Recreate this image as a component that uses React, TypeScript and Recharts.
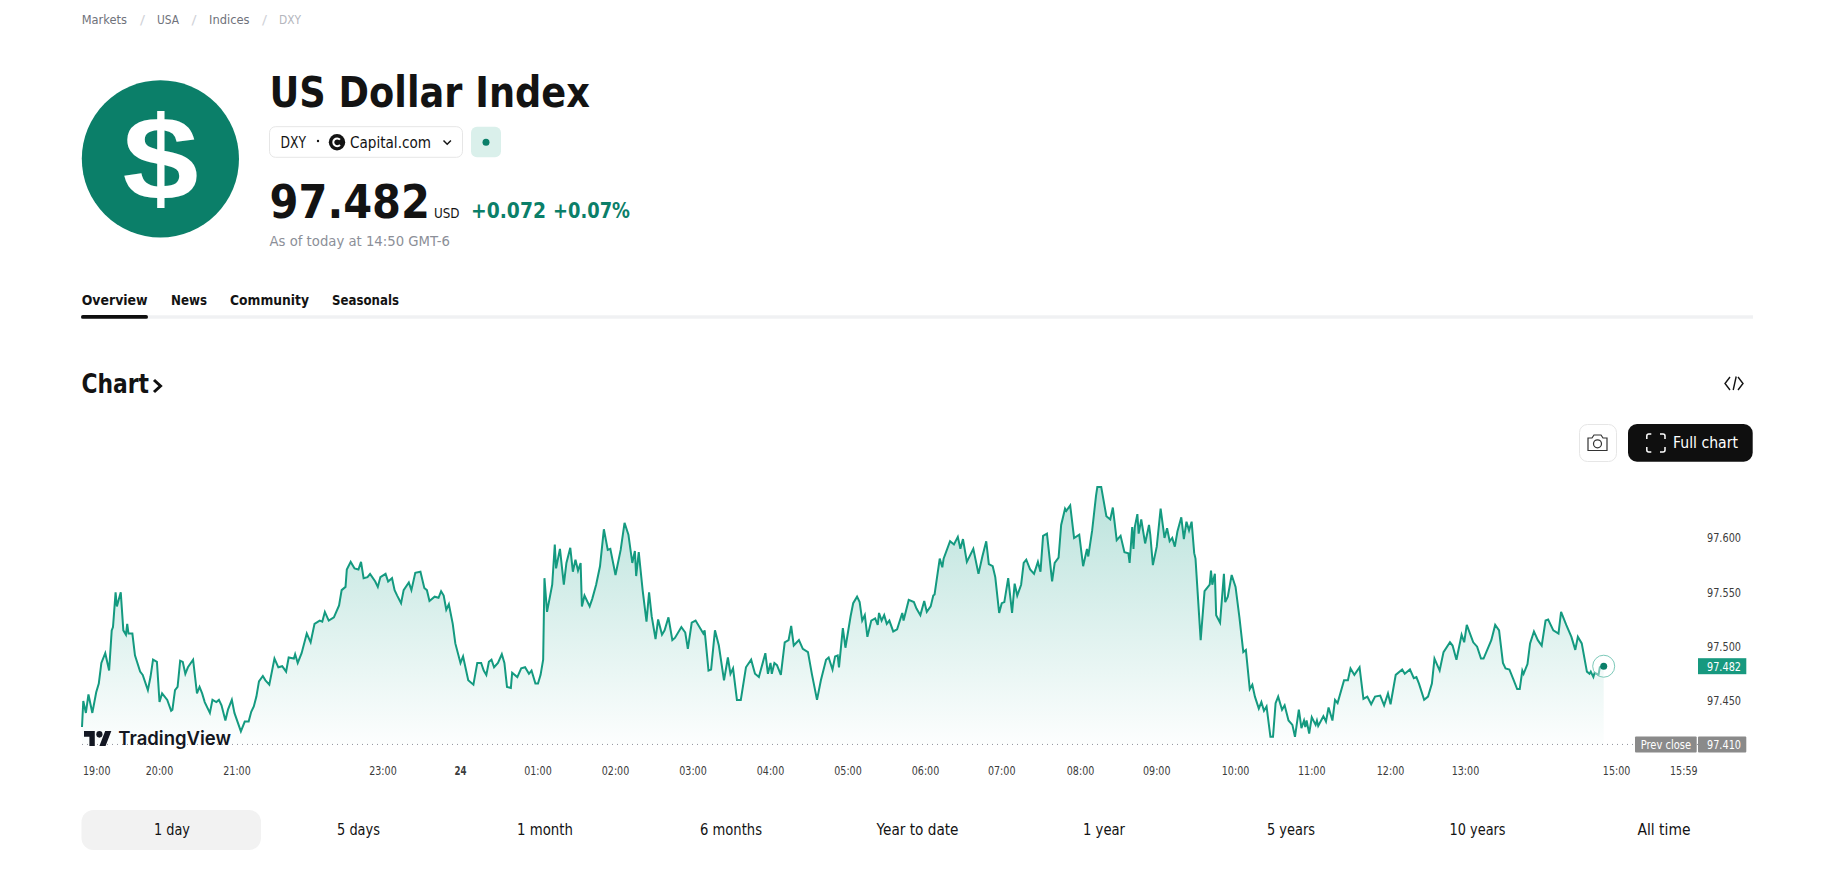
import React from "react"
import {
  Area,
  ComposedChart,
  ReferenceDot,
  ReferenceLine,
  XAxis,
  YAxis
} from "recharts"

// [minute bar on the intraday axis, price]
type Quote = [number, number]

const eveningQuotes: Quote[] = [
  [0,97.426],[1,97.450],[3,97.439],[5,97.456],[8,97.439],[11,97.458],[13,97.466],[15,97.485],[18,97.494],[21,97.478],
  [23,97.515],[24,97.518],[26,97.550],[27,97.537],[30,97.550],[32,97.515],[34,97.511],[35,97.521],[36,97.512],[39,97.512],
  [41,97.492],[45,97.477],[47,97.474],[51,97.460],[53,97.472],[55,97.488],[58,97.486],[60,97.449],[62,97.457],[64,97.454],
  [66,97.451],[69,97.441],[70,97.442],[72,97.460],[74,97.463],[76,97.487],[78,97.486],[80,97.475],[82,97.481],[86,97.488],
  [89,97.457],[91,97.463],[93,97.457],[95,97.449],[99,97.439],[101,97.451],[104,97.449],[106,97.451],[108,97.446],[111,97.432],
  [113,97.442],[116,97.451],[118,97.439],[123,97.422],[126,97.431],[129,97.431],[131,97.440],[133,97.445],[135,97.454],[137,97.468],
  [140,97.473],[142,97.469],[145,97.465],[149,97.489],[152,97.481],[155,97.482],[158,97.477],[160,97.490],[164,97.489],[165,97.493],
  [167,97.485],[170,97.494],[174,97.512],[177,97.504],[180,97.521],[184,97.524],[186,97.523],[188,97.532],[191,97.524],[195,97.527],
  [199,97.538],[201,97.552],[204,97.555],[205,97.571],[208,97.578],[211,97.572],[214,97.571],[216,97.578],[218,97.563],[221,97.564],
  [223,97.567],[227,97.560],[229,97.555],[231,97.564],[235,97.567],[237,97.560],[240,97.563],[242,97.552],[244,97.547],[247,97.540],
  [249,97.552],[253,97.559],[255,97.552],[258,97.568],[262,97.569],[265,97.554],[267,97.552],[269,97.542],[273,97.546],[276,97.545],
  [278,97.551],[280,97.547],[282,97.534],[284,97.539],[287,97.521],[289,97.503],[293,97.485],[295,97.491],[299,97.469],[303,97.465],
  [306,97.485],[309,97.485],[311,97.478],[313,97.474],[315,97.486],[317,97.488],[319,97.481],[322,97.485],[325,97.493],[327,97.485],
  [329,97.463],[332,97.462],[333,97.476],[337,97.472],[340,97.480],[343,97.481],[346,97.475],[348,97.478],[351,97.466],[353,97.466],
  [355,97.474],[357,97.488]
]

const nightQuotes: Quote[] = [
  [358,97.563],[360,97.532],[364,97.557],[366,97.594],[367,97.572],[370,97.590],[373,97.557],[375,97.577],[378,97.591],[380,97.569],
  [382,97.580],[384,97.570],[386,97.577],[387,97.537],[389,97.547],[393,97.537],[395,97.544],[398,97.557],[401,97.574],[404,97.608],
  [407,97.589],[409,97.590],[413,97.566],[417,97.589],[420,97.614],[423,97.603],[426,97.577],[428,97.588],[429,97.565],[431,97.587],
  [434,97.552],[437,97.523],[439,97.550],[441,97.528],[444,97.507],[446,97.525],[449,97.511],[451,97.515],[454,97.527],[457,97.506],
  [459,97.508],[464,97.518],[467,97.513],[469,97.498],[472,97.522],[475,97.524],[481,97.512],[482,97.515],[485,97.478],[487,97.479],
  [490,97.515],[493,97.501],[497,97.469],[500,97.490],[502,97.475],[504,97.480],[507,97.451],[510,97.451],[514,97.481],[518,97.488],
  [521,97.475],[524,97.472],[529,97.494],[531,97.475],[533,97.485],[534,97.475],[536,97.485],[538,97.483],[541,97.474],[544,97.504],
  [547,97.506],[549,97.519],[551,97.501],[555,97.506],[558,97.498],[562,97.495],[565,97.475],[569,97.451],[572,97.469],[576,97.488],
  [578,97.490],[581,97.479],[583,97.491],[585,97.492],[586,97.481],[589,97.517],[591,97.499],[595,97.528],[597,97.540],[600,97.546],
  [602,97.541],[604,97.524],[606,97.529],[608,97.509],[611,97.524],[614,97.526],[616,97.520],[617,97.531],[619,97.524],[621,97.529],
  [623,97.521],[625,97.524],[628,97.514],[631,97.516],[635,97.531],[636,97.524],[640,97.543],[644,97.541],[646,97.535],[649,97.529],
  [652,97.542],[654,97.532],[657,97.537],[659,97.547],[660,97.548],[664,97.581],[666,97.573],[667,97.581],[672,97.597],[675,97.594],
  [678,97.601],[680,97.590],[682,97.599],[685,97.578],[690,97.590],[694,97.567],[697,97.583],[700,97.597],[702,97.576],[705,97.574],
  [707,97.564],[710,97.531],[712,97.540],[714,97.541],[717,97.563],[720,97.531],[722,97.558],[724,97.547],[727,97.557],[729,97.577],
  [731,97.580],[734,97.571],[737,97.567],[740,97.578],[742,97.569]
]

const morningQuotes: Quote[] = [
  [744,97.602],[747,97.604],[751,97.560],[753,97.577],[756,97.582],[758,97.612],[761,97.627],[762,97.625],[765,97.630],[768,97.600],
  [772,97.603],[775,97.574],[778,97.590],[779,97.583],[782,97.607],[785,97.639],[786,97.647],[789,97.647],[793,97.620],[796,97.617],
  [798,97.628],[801,97.598],[804,97.602],[807,97.587],[810,97.586],[811,97.577],[813,97.610],[814,97.590],[815,97.610],[817,97.622],
  [818,97.604],[820,97.617],[823,97.595],[826,97.612],[827,97.603],[829,97.575],[832,97.592],[835,97.627],[838,97.600],[840,97.609],
  [842,97.597],[844,97.600],[846,97.592],[848,97.606],[851,97.619],[853,97.599],[855,97.615],[857,97.607],[859,97.615],[861,97.586],
  [862,97.581],[866,97.506],[869,97.551],[873,97.557],[874,97.570],[875,97.557],[877,97.567],[878,97.529],[881,97.522],[884,97.567],
  [885,97.541],[887,97.546],[890,97.566],[893,97.555],[896,97.527],[899,97.495],[901,97.497],[904,97.461],[906,97.465],[908,97.454],
  [911,97.443],[913,97.449],[915,97.441],[917,97.445],[920,97.417],[922,97.417],[924,97.448],[926,97.454],[929,97.442],[931,97.446],
  [934,97.432],[937,97.428],[939,97.417],[942,97.442],[944,97.425],[946,97.432],[947,97.426],[948,97.432],[950,97.420],[952,97.435],
  [955,97.428],[956,97.432],[957,97.427],[961,97.436],[963,97.431],[965,97.444],[968,97.432],[970,97.451],[972,97.448],[977,97.469]
]

const afternoonQuotes: Quote[] = [
  [980,97.469],[982,97.480],[985,97.474],[989,97.481],[992,97.452],[995,97.454],[998,97.447],[1001,97.454],[1005,97.455],[1008,97.446],
  [1011,97.457],[1013,97.447],[1017,97.474],[1022,97.479],[1024,97.475],[1028,97.479],[1031,97.471],[1033,97.472],[1035,97.466],[1039,97.451],
  [1042,97.454],[1045,97.466],[1047,97.489],[1051,97.478],[1054,97.495],[1059,97.504],[1061,97.501],[1064,97.488],[1068,97.511],[1070,97.504],
  [1072,97.520],[1077,97.504],[1080,97.500],[1083,97.489],[1085,97.489],[1091,97.506],[1094,97.520],[1097,97.515],[1100,97.485],[1102,97.480],
  [1105,97.479],[1108,97.470],[1111,97.461],[1113,97.461],[1115,97.478],[1116,97.475],[1119,97.484],[1121,97.503],[1124,97.514],[1127,97.506],
  [1130,97.501],[1133,97.524],[1135,97.525],[1139,97.515],[1143,97.512],[1145,97.532],[1149,97.520],[1153,97.509],[1156,97.497],[1158,97.509],
  [1161,97.503],[1165,97.477],[1167,97.475],[1168,97.477],[1170,97.472],[1171,97.476],[1174,97.474],[1175,97.481],[1178,97.482]
]

const timeBars = [0, 60, 120, 233, 293, 353, 413, 473, 533, 593, 653, 712, 773, 832, 893, 952, 1013, 1071, 1188, 1240]
const timeLabels = ["19:00", "20:00", "21:00", "23:00", "24", "01:00", "02:00", "03:00", "04:00", "05:00", "06:00", "07:00", "08:00", "09:00", "10:00", "11:00", "12:00", "13:00", "15:00", "15:59"]
const priceTicks = [97.41, 97.45, 97.482, 97.5, 97.55, 97.6]
const lastPrice = 97.482
const prevClose = 97.41
const lastBar = 1178

const rangeLabels = ["1 day", "5 days", "1 month", "6 months", "Year to date", "1 year", "5 years", "10 years", "All time"]
const rangeCenters = [172, 358.5, 545, 731, 917.5, 1104, 1291, 1477.6, 1664]
const rangeWidths = [36, 43, 56, 62, 82, 42, 48, 56, 53]

const chartData = [...eveningQuotes, ...nightQuotes, ...morningQuotes, ...afternoonQuotes].map(
  ([bar, price]) => ({ bar, price })
)

const FONT = "'DejaVu Sans', sans-serif"
const GREEN = "#0b7f69"
const LINE_GREEN = "#149a80"

function Txt({ x, y, w, size, weight = 400, fill = "#131313", family = FONT, anchor = "start", children }: any) {
  return (
    <text
      x={x}
      y={y}
      fontSize={size}
      fontWeight={weight}
      fill={fill}
      fontFamily={family}
      textAnchor={anchor}
      textLength={w}
      lengthAdjust="spacingAndGlyphs"
    >
      {children}
    </text>
  )
}

function TimeTick({ x, y, payload }: any) {
  const i = timeBars.indexOf(payload.value)
  const label = timeLabels[i]
  const isDay = label === "24"
  return (
    <Txt
      x={i === 0 ? x + 1 : x}
      y={y + 19.7}
      w={isDay ? 12 : 27.5}
      size={12}
      weight={isDay ? 700 : 400}
      fill="#3c3c3c"
      anchor={i === 0 ? "start" : "middle"}
    >
      {label}
    </Txt>
  )
}

function PriceTick({ x, y, payload }: any) {
  const text = payload.value.toFixed(3)
  if (payload.value === lastPrice) {
    return (
      <g>
        <rect x={x} y={y - 8} width={48.3} height={16} fill="#17997f" />
        <Txt x={x + 9} y={y + 4.3} w={34} size={12} fill="#ffffff">{text}</Txt>
      </g>
    )
  }
  if (payload.value === prevClose) {
    return (
      <g>
        <rect x={x - 63} y={y - 8} width={61.7} height={16} rx={1} fill="#8a8a8a" />
        <Txt x={x - 57.3} y={y + 4.3} w={50.3} size={12} fill="#ffffff">Prev close</Txt>
        <rect x={x} y={y - 8} width={48.3} height={16} rx={1} fill="#8a8a8a" />
        <Txt x={x + 9} y={y + 4.3} w={34} size={12} fill="#ffffff">{text}</Txt>
      </g>
    )
  }
  return <Txt x={x + 9} y={y + 4.3} w={34} size={12} fill="#3c3c3c">{text}</Txt>
}

function PageChrome() {
  return (
    <svg width={1826} height={870} style={{ position: "absolute", left: 0, top: 0 }}>
      <Txt x={81.7} y={24} w={45.3} size={12.5} fill="#6f727b">Markets</Txt>
      <Txt x={140} y={24} w={5} size={12.5} fill="#d0d2d8">/</Txt>
      <Txt x={157} y={24} w={22} size={12.5} fill="#6f727b">USA</Txt>
      <Txt x={191.5} y={24} w={5} size={12.5} fill="#d0d2d8">/</Txt>
      <Txt x={209} y={24} w={40.5} size={12.5} fill="#6f727b">Indices</Txt>
      <Txt x={262} y={24} w={5} size={12.5} fill="#d0d2d8">/</Txt>
      <Txt x={279} y={24} w={22} size={12.5} fill="#b4b6bd">DXY</Txt>

      <circle cx={160.4} cy={158.8} r={78.6} fill={GREEN} />
      <Txt x={160.5} y={199} w={76} size={119} weight={700} fill="#ffffff" family="'Liberation Sans', sans-serif" anchor="middle">$</Txt>

      <Txt x={269.5} y={107.3} w={320.5} size={42.6} weight={700}>US Dollar Index</Txt>

      <rect x={269.5} y={126.7} width={193} height={30.6} rx={6} fill="#ffffff" stroke="#e6e6e6" />
      <Txt x={280.6} y={147.7} w={25.5} size={15}>DXY</Txt>
      <circle cx={318} cy={141} r={1.2} fill="#131313" />
      <circle cx={337} cy={142.3} r={8.2} fill="#131313" />
      <path d="M340 139.6a3.9 3.9 0 1 0 0 5.4" fill="none" stroke="#ffffff" strokeWidth={2} />
      <Txt x={350} y={147.7} w={81} size={15}>Capital.com</Txt>
      <path d="M443.5 140.5l3.7 3.7 3.7-3.7" fill="none" stroke="#131313" strokeWidth={1.5} />
      <rect x={471} y={126.7} width={30} height={30.6} rx={6} fill="#daf0eb" />
      <circle cx={486} cy={142.3} r={3.5} fill={GREEN} />

      <Txt x={269.5} y={218} w={160.5} size={46.6} weight={700}>97.482</Txt>
      <Txt x={434} y={218} w={25.6} size={14.5}>USD</Txt>
      <Txt x={471} y={218.3} w={75} size={21} weight={700} fill={GREEN}>+0.072</Txt>
      <Txt x={553} y={218.3} w={77} size={21} weight={700} fill={GREEN}>+0.07%</Txt>
      <Txt x={269.5} y={245.7} w={180.5} size={14} fill="#8c8f98">As of today at 14:50 GMT-6</Txt>

      <Txt x={81.7} y={305} w={66} size={14.5} weight={700}>Overview</Txt>
      <Txt x={171} y={305} w={36} size={14.5} weight={700}>News</Txt>
      <Txt x={230} y={305} w={79} size={14.5} weight={700}>Community</Txt>
      <Txt x={332} y={305} w={67} size={14.5} weight={700}>Seasonals</Txt>
      <rect x={81} y={315.3} width={1672} height={3.4} fill="#f0f1f3" />
      <rect x={81} y={315} width={67} height={3.8} rx={1.9} fill="#0f0f0f" />

      <Txt x={81.5} y={393} w={67.5} size={26} weight={700}>Chart</Txt>
      <path d="M154 380l6.5 6-6.5 6" fill="none" stroke="#0f0f0f" strokeWidth={3} />
      <path d="M1730 377l-5 6.5 5 6.5M1738 377l5 6.5-5 6.5M1736.2 376.5l-3 13.5" fill="none" stroke="#131313" strokeWidth={1.4} />

      <rect x={1579.5} y={424.5} width={37} height={37} rx={8} fill="#ffffff" stroke="#e6e6e6" />
      <path d="M1588 438h4l2-3h7l2 3h4v12.5h-19z" fill="none" stroke="#333333" strokeWidth={1.2} />
      <circle cx={1597.5} cy={443.8} r={4} fill="none" stroke="#333333" strokeWidth={1.2} />
      <rect x={1628} y={424} width={124.7} height={37.7} rx={9} fill="#0f0f0f" />
      <path d="M1646.8 439v-3a2 2 0 0 1 2-2h2.5M1660 434h3a2 2 0 0 1 2 2v3M1665 447v3a2 2 0 0 1-2 2h-3M1651.3 452h-2.5a2 2 0 0 1-2-2v-3" fill="none" stroke="#ffffff" strokeWidth={1.5} />
      <Txt x={1673} y={448} w={65} size={15} fill="#ffffff">Full chart</Txt>

      <rect x={81.5} y={810} width={179.5} height={40} rx={12} fill="#f2f2f2" />
      {rangeLabels.map((label, i) => (
        <Txt key={label} x={rangeCenters[i]} y={835} w={rangeWidths[i]} size={15.5} anchor="middle">
          {label}
        </Txt>
      ))}
    </svg>
  )
}

function TradingViewMark() {
  return (
    <svg width={1826} height={870} style={{ position: "absolute", left: 0, top: 0, pointerEvents: "none" }}>
      <g transform="translate(84 727.7) scale(0.77 0.83)" fill="#131722">
        <path d="M14 22H7V11H0V4h14v18zM28 22h-8l7.5-18h8L28 22z" />
        <circle cx={20} cy={8} r={4} />
      </g>
      <Txt x={118.3} y={745} w={112.7} size={19} weight={600} family="Inter, sans-serif" fill="#131722">TradingView</Txt>
    </svg>
  )
}

export default function App() {
  return (
    <div style={{ position: "absolute", left: 0, top: 0, width: 1826, height: 870, overflow: "hidden", background: "#ffffff" }}>
      <PageChrome />
      <div style={{ position: "absolute", left: 0, top: 0 }}>
        <ComposedChart
          width={1826}
          height={870}
          data={chartData}
          margin={{ top: 472.8, right: 0, bottom: 84.7, left: 82 }}
        >
          <defs>
            <linearGradient id="dxyFill" x1="0" y1="0" x2="0" y2="1">
              <stop offset="0%" stopColor="#089981" stopOpacity={0.28} />
              <stop offset="100%" stopColor="#089981" stopOpacity={0.01} />
            </linearGradient>
          </defs>
          <XAxis
            dataKey="bar"
            type="number"
            domain={[0, 1251]}
            ticks={timeBars}
            interval={0}
            height={30}
            axisLine={false}
            tickLine={false}
            tickSize={0}
            tickMargin={0}
            tick={<TimeTick />}
          />
          <YAxis
            orientation="right"
            domain={[97.4, 97.66]}
            ticks={priceTicks}
            interval={0}
            width={128}
            axisLine={false}
            tickLine={false}
            tickSize={0}
            tickMargin={0}
            tick={<PriceTick />}
          />
          <ReferenceLine y={prevClose} stroke="#8f929b" strokeDasharray="1 4" />
          <Area
            type="linear"
            dataKey="price"
            baseValue={prevClose}
            stroke={LINE_GREEN}
            strokeWidth={2}
            fill="url(#dxyFill)"
            fillOpacity={1}
            dot={false}
            activeDot={false}
            isAnimationActive={false}
          />
          <ReferenceDot x={lastBar} y={lastPrice} r={11} fill="#ffffff" fillOpacity={0.4} stroke="#7cc9b9" strokeWidth={1} />
          <ReferenceDot x={lastBar} y={lastPrice} r={3.5} fill={GREEN} stroke="none" />
        </ComposedChart>
      </div>
      <TradingViewMark />
    </div>
  )
}
